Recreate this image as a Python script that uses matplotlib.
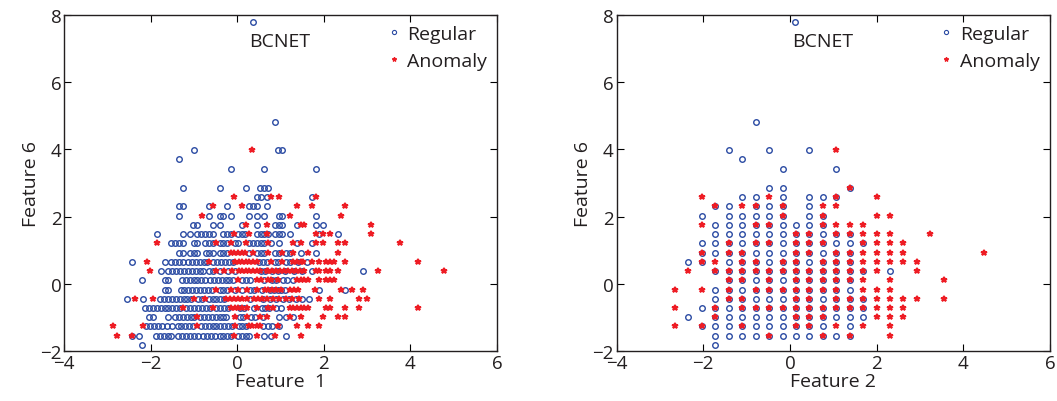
import matplotlib
matplotlib.use("Agg")
import matplotlib.pyplot as plt
from matplotlib.lines import Line2D

plt.rcParams['font.family'] = ['Open Sans', 'DejaVu Sans']

# ---------------- data ----------------
# Feature 6 levels (rows of the quantised feature)
feature6_levels = [7.80, 4.82, 3.97, 3.70, 3.42, 2.86, 2.58, 2.31, 2.03, 1.75, 1.48,
                   1.20, 0.93, 0.65, 0.38, 0.10, -0.17, -0.45, -0.72, -1.00,
                   -1.27, -1.55, -1.83]

# Left panel: Feature 1 values of points on each Feature 6 level (same order)
left_regular_x = [
    [0.36],
    [0.87],
    [-1.00, 0.95, 1.04],
    [-1.34],
    [-0.15, 0.62, 1.81],
    [-1.25, -0.40, 0.19, 0.52, 0.62, 0.71],
    [0.45, 0.54, 0.69, 1.72],
    [-1.35, -1.25, -0.65, -0.23, 0.28, 0.37, 0.46, 0.69],
    [-1.34, -0.65, -0.41, -0.32, -0.15, 0.28, 0.45, 0.62, 0.96, 1.04, 1.81],
    [-1.02, -0.94, -0.57, -0.40, 0.10, 0.45, 0.87, 0.96, 1.04, 1.38, 1.81, 1.98],
    [-1.86, -1.26, -1.09, -0.92, -0.83, -0.74, -0.65, -0.57, -0.32, -0.23, -0.15,
     0.02, 0.10, 0.18, 0.45, 0.54, 0.62, 0.71, 0.87, 0.96, 1.04, 1.22, 1.89, 2.32],
    [-1.53, -1.43, -1.34, -1.25, -1.00, -0.92, -0.75, -0.65, -0.57, -0.40, -0.32,
     -0.23, -0.05, 0.02, 0.28, 0.37, 0.45, 0.54, 0.62, 0.78, 0.96, 1.38, 1.72],
    [-1.34, -1.25, -1.09, -1.00, -0.92, -0.73, -0.65, -0.57, -0.40, -0.32, -0.23,
     0.28, 0.45, 0.54, 0.62, 0.87, 0.96, 1.12, 1.22, 1.46, 1.81],
    [-2.44, -1.67, -1.52, -1.43, -1.34, -1.25, -1.13, -1.04, -0.95, -0.86, -0.77,
     -0.71, -0.56, -0.47, -0.38, -0.29, -0.20, -0.11, 0.50, 0.59, 0.68, 0.86, 0.95,
     1.13, 1.22, 1.40, 1.60],
    [-1.76, -1.59, -1.50, -1.41, -1.32, -1.23, -1.14, -1.05, -0.96, -0.87, -0.78,
     -0.66, -0.57, -0.41, -0.22, -0.05, 0.55, 0.64, 0.80, 0.95, 1.10, 1.30, 1.50,
     1.72, 2.91],
    [-2.19, -1.67, -1.59, -1.28, -1.19, -1.10, -1.01, -0.92, -0.83, -0.74, -0.63,
     -0.54, -0.45, -0.36, -0.27, -0.18, -0.09, 0.12, 0.20, 0.30, 0.62, 0.80, 0.90,
     1.06, 1.15, 1.29],
    [-1.67, -1.59, -1.31, -1.22, -1.13, -1.04, -0.95, -0.86, -0.77, -0.68, -0.59,
     -0.41, -0.32, -0.23, -0.06, 0.10, 0.30, 0.38, 0.56, 0.75, 0.84, 0.93, 1.02,
     1.11, 1.89, 2.48],
    [-2.54, -2.18, -1.78, -1.69, -1.60, -1.51, -1.42, -1.33, -1.24, -1.15, -1.06,
     -0.90, -0.82, -0.66, -0.57, -0.48, -0.39, -0.30, 0.30, 0.60, 0.75, 0.90, 1.05,
     1.20, 1.35, 1.50, 1.66],
    [-2.13, -2.04, -1.95, -1.86, -1.77, -1.68, -1.59, -1.50, -1.41, -1.32, -1.18,
     -1.09, -1.00, -0.91, -0.82, -0.73, -0.64, -0.48, -0.39, -0.30, -0.21, 0.06,
     0.15, 0.38, 0.56, 0.65, 0.74, 0.90, 1.00],
    [-2.03, -1.94, -1.59, -1.44, -1.35, -1.26, -1.17, -1.08, -1.01, -0.86, -0.77,
     -0.68, -0.59, -0.50, -0.41, -0.32, -0.25, 0.06, 0.13, 0.32, 0.40, 0.60, 0.96,
     1.12, 1.29],
    [-2.10, -2.01, -1.92, -1.83, -1.74, -1.63, -1.51, -1.38, -1.29, -1.20, -1.11,
     -1.02, -0.84, -0.75, -0.66, -0.57, -0.48, -0.39, -0.30, -0.21, -0.12, 0.03,
     0.12, 0.21, 0.60, 0.72, 0.80, 0.96],
    [-2.44, -2.26, -1.88, -1.79, -1.70, -1.61, -1.52, -1.36, -1.27, -1.18, -1.09,
     -1.00, -0.90, -0.78, -0.69, -0.60, -0.51, -0.40, -0.32, -0.23, -0.14, 0.02,
     0.11, 0.20, 0.28, 0.62, 0.78, 1.12],
    [-2.19],
]
left_anomaly_x = [
    [],
    [],
    [0.35],
    [],
    [],
    [],
    [-0.07, 0.78, 0.96, 1.81],
    [-0.57, 0.10, 1.38, 1.72, 2.48],
    [-0.82, 1.22, 2.40],
    [0.19, 0.69, 1.46, 1.55, 3.08],
    [-0.07, 0.28, 0.69, 1.81, 1.98, 2.15, 3.08],
    [-1.85, -0.49, -0.15, 0.19, 0.71, 1.29, 1.46, 1.81, 1.98, 2.32, 2.48, 3.75],
    [-0.15, -0.07, 0.02, 0.10, 0.18, 0.37, 0.71, 1.04, 1.29, 1.64, 2.32],
    [-2.09, -0.65, -0.05, 0.03, 0.11, 0.19, 0.27, 0.36, 0.45, 0.78, 1.04, 1.29,
     1.38, 1.46, 1.52, 1.72, 1.89, 2.06, 2.15, 2.23, 2.48, 4.18],
    [-2.01, -0.50, -0.31, -0.13, 0.03, 0.11, 0.19, 0.27, 0.36, 0.45, 0.52, 0.68,
     0.72, 0.81, 0.90, 0.99, 1.08, 1.17, 1.26, 1.35, 1.44, 1.55, 1.82, 1.89, 2.06,
     2.15, 2.32, 3.25, 4.78],
    [0.02, 0.45, 0.54, 0.72, 0.78, 0.95, 1.37, 1.46, 1.55, 1.64, 1.89, 2.06, 2.15,
     2.23],
    [-0.50, -0.15, 0.02, 0.22, 0.45, 0.64, 0.70, 0.80, 0.90, 1.00, 1.22, 1.30, 1.40,
     1.79, 2.40, 2.65, 2.91],
    [-2.36, -1.94, -1.00, -0.75, -0.25, -0.16, -0.07, 0.02, 0.11, 0.22, 0.38, 0.47,
     0.56, 0.68, 0.82, 0.97, 1.12, 1.27, 1.42, 1.89, 2.15, 2.82, 2.99],
    [-1.26, -0.57, -0.15, -0.06, 0.02, 0.11, 0.22, 0.45, 0.72, 0.83, 1.22, 1.29,
     1.38, 1.46, 1.55, 1.64, 2.06, 2.15, 2.48, 2.82, 4.18],
    [-0.92, -0.05, 0.22, 0.52, 0.69, 1.22, 1.46, 1.98, 2.32, 2.48],
    [-2.88, -2.18, -0.92, -0.05, 0.26, 0.35, 0.45, 0.52, 0.95, 1.38, 1.64, 1.89],
    [-2.78, -2.44, -0.07, 0.45, 0.87, 1.46],
    [],
]

# Right panel: Feature 2 takes discrete values (columns)
feature2_values = [-2.65, -2.34, -2.03, -1.72, -1.41, -1.10, -0.79, -0.48, -0.17,
                   0.14, 0.45, 0.76, 1.07, 1.38, 1.69, 2.00, 2.31, 2.62, 2.93,
                   3.24, 3.55, 3.86, 4.17, 4.48]
# Rows of cells: B = regular, R = anomaly, X = both ('.' = none)
right_levels = [4.82, 3.97, 3.70, 3.42, 2.86, 2.58, 2.31, 2.03, 1.75, 1.48, 1.20,
                0.93, 0.65, 0.38, 0.10, -0.17, -0.45, -0.72, -1.00, -1.27, -1.55,
                -1.83]
right_cells = [
    "......B.................",
    "....B..B..B.R...........",
    ".....B..................",
    "........B...B...........",
    ".......BB....X..........",
    "..R..BBRB.BBX..R........",
    "...XBRXBX.BRR...........",
    "..B.BBBBX.BX...RR.......",
    "..RBBBXXBBBXRRR.........",
    "...BBBBBBXXBXXRRR..R....",
    "..BBXBXXBXXXBBXRRR......",
    "..XBXXBBBXXBXXRRRR.....R",
    ".BXRBXXBXXBXXXRRRRR.....",
    ".R.XXXXXXXXXXXXRB.R.....",
    "....XXBXBXXXXXR.R...R...",
    "R.RBXBXXXXXXXBRRR.......",
    "...BXXBBBXXBXXXRRRR.R...",
    "R.BXBXXXXXXXXXXRRR......",
    ".B.XBBBBBXXXBBBRRR......",
    "R.XBBXBBBXXBRBR.R.......",
    "...BBBBXBBBXBX..R.......",
    "...B....................",
]
right_top_outlier = (0.12, 7.80)

xticks = [-4, -2, 0, 2, 4, 6]
yticks = [-2, 0, 2, 4, 6, 8]

# ---------------- build points ----------------
lrx, lry, lax, lay = [], [], [], []
for lvl, reg, ano in zip(feature6_levels, left_regular_x, left_anomaly_x):
    lrx += reg; lry += [lvl] * len(reg)
    lax += ano; lay += [lvl] * len(ano)

rrx, rry, rax, ray = [right_top_outlier[0]], [right_top_outlier[1]], [], []
for lvl, row in zip(right_levels, right_cells):
    for xv, c in zip(feature2_values, row):
        if c in "BX":
            rrx.append(xv); rry.append(lvl)
        if c in "RX":
            rax.append(xv); ray.append(lvl)

BLUE = '#2b4ba3'
RED = '#ee1c24'
TXT = '#231f20'

fig = plt.figure(figsize=(10.57, 4.02), dpi=100)
ax1 = fig.add_axes([0.0606, 0.1244, 0.4097, 0.8358])
ax2 = fig.add_axes([0.5833, 0.1244, 0.4100, 0.8358])

FS_TICK = 13.5
FS = 14

def style(ax, xlabel):
    ax.set_xlim(-4, 6)
    ax.set_ylim(-2, 8)
    ax.set_xticks(xticks)
    ax.set_yticks(yticks)
    ax.set_xticklabels(['\u22124', '\u22122', '0', '2', '4', '6'], fontsize=FS_TICK)
    ax.set_yticklabels(['\u22122', '0', '2', '4', '6', '8'], fontsize=FS_TICK)
    ax.tick_params(direction='in', top=True, right=True, length=5, width=0.8,
                   pad=2, labelcolor=TXT)
    for s in ax.spines.values():
        s.set_linewidth(1.0)
        s.set_color(TXT)
    ax.set_xlabel(xlabel, fontsize=FS, labelpad=0, color=TXT)
    ax.set_ylabel('Feature 6', fontsize=FS, labelpad=0, color=TXT)

for ax, rx, ry, axx, ayy, xl, tx in [
        (ax1, lrx, lry, lax, lay, 'Feature  1', 0.99),
        (ax2, rrx, rry, rax, ray, 'Feature 2', 0.76)]:
    ax.plot(rx, ry, linestyle='none', marker='o', ms=4.0, mfc='none',
            mec=BLUE, mew=1.0, label='Regular')
    ax.plot(axx, ayy, linestyle='none', marker='*', ms=4.2, mfc=RED,
            mec=RED, mew=1.3, label='Anomaly')
    style(ax, xl)
    ax.text(tx, 7.22, 'BCNET', fontsize=FS, ha='center', va='center',
            color=TXT)
    handles = [Line2D([], [], linestyle='none', marker='o', ms=3.0, mfc='none',
                      mec=BLUE, mew=0.8),
               Line2D([], [], linestyle='none', marker='*', ms=3.2, mfc=RED,
                      mec=RED, mew=0.9)]
    ax.legend(handles, ['Regular', 'Anomaly'], loc='upper right', frameon=False,
              bbox_to_anchor=(0.988, 0.985),
              fontsize=FS, handlelength=0.5, handletextpad=0.45, labelspacing=0.45,
              borderaxespad=0.15, borderpad=0.1, labelcolor=TXT)

fig.savefig('out.png', dpi=100)
